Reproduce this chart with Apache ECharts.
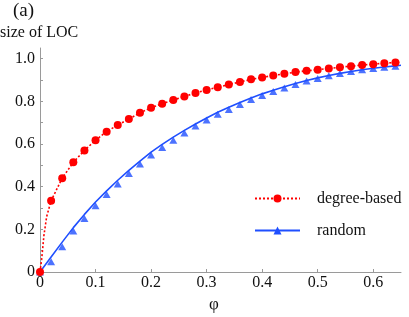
<!DOCTYPE html>
<html>
<head>
<meta charset="utf-8">
<script src="https://cdn.jsdelivr.net/npm/echarts@6/dist/echarts.min.js"></script>
<style>html,body{margin:0;padding:0;background:#fff}#c{width:409px;height:317px}</style>
</head>
<body>
<div id="c"></div>
<script>
// phi values of the markers
const phi = [0,0.02,0.04,0.06,0.08,0.10,0.12,0.14,0.16,0.18,0.20,0.22,0.24,0.26,0.28,0.30,0.32,0.34,0.36,0.38,0.40,0.42,0.44,0.46,0.48,0.50,0.52,0.54,0.56,0.58,0.60,0.62,0.64];
// degree-based markers (red circles)
const degreeBased = [0,0.334,0.440,0.514,0.570,0.618,0.658,0.689,0.717,0.746,0.770,0.789,0.806,0.823,0.839,0.853,0.866,0.879,0.891,0.903,0.912,0.921,0.929,0.937,0.943,0.948,0.954,0.960,0.965,0.970,0.974,0.979,0.982];
// extra points of the dotted red curve (near zero and at the end)
const degreeCurveX = [0.003,0.007,0.012,0.65];
const degreeCurveY = [0.060,0.170,0.260,0.984];
// random markers (blue triangles)
const randomSim = [0,0.048,0.118,0.192,0.251,0.311,0.363,0.413,0.462,0.506,0.548,0.584,0.618,0.652,0.684,0.712,0.740,0.762,0.785,0.809,0.827,0.846,0.863,0.879,0.895,0.907,0.920,0.931,0.940,0.948,0.954,0.960,0.965];
// solid blue curve
const randomCurveX = [0,0.02,0.04,0.06,0.08,0.10,0.12,0.14,0.16,0.18,0.20,0.22,0.24,0.26,0.28,0.30,0.32,0.34,0.36,0.38,0.40,0.42,0.44,0.46,0.48,0.50,0.52,0.54,0.56,0.58,0.60,0.62,0.64,0.65];
const randomCurveY = [0,0.070,0.140,0.208,0.270,0.328,0.380,0.430,0.476,0.520,0.562,0.598,0.632,0.664,0.694,0.722,0.749,0.772,0.795,0.816,0.835,0.852,0.868,0.884,0.898,0.910,0.921,0.931,0.940,0.948,0.955,0.961,0.966,0.969];
// tick labels
const xLabels = [0,0.1,0.2,0.3,0.4,0.5,0.6];
const yLabels = [0,0.2,0.4,0.6,0.8,1.0];
const yTicks = [0,0.1,0.2,0.3,0.4,0.5,0.6,0.7,0.8,0.9,1.0];

const RED = '#ff0000';
const BLUE = '#1f4fff';
const AXIS = '#9a9a9a';
const FONT = 'Liberation Serif, Times New Roman, serif';

const redData = [];
phi.forEach((x, i) => redData.push({ value: [x, degreeBased[i]] }));
degreeCurveX.forEach((x, i) => redData.push({ value: [x, degreeCurveY[i]], symbol: 'none' }));
redData.sort((a, b) => a.value[0] - b.value[0]);

const blueLine = randomCurveX.map((x, i) => ({ value: [x, randomCurveY[i]], symbol: 'none' }));
const blueTri = phi.map((x, i) => [x, randomSim[i]]);

const fmt = v => (v === 0 ? '0' : v.toFixed(1));

const chart = echarts.init(document.getElementById('c'), null, { renderer: 'canvas' });
chart.setOption({
  animation: false,
  backgroundColor: '#fff',
  textStyle: { fontFamily: FONT },
  grid: { left: 40, right: 8, top: 48, bottom: 45, containLabel: false },
  xAxis: {
    type: 'value', min: 0, max: 0.65, interval: 0.1,
    axisLine: { show: true, lineStyle: { color: AXIS, width: 1 } },
    axisTick: { show: true, inside: true, length: 3, lineStyle: { color: AXIS }, customValues: xLabels.slice(1) },
    axisLabel: { customValues: xLabels, formatter: fmt, color: '#111', fontFamily: FONT, fontSize: 16, margin: 3 },
    splitLine: { show: false }
  },
  yAxis: {
    type: 'value', min: 0, max: 1.05, interval: 0.1,
    axisLine: { show: true, lineStyle: { color: AXIS, width: 1 } },
    axisTick: { show: true, inside: true, length: 3, lineStyle: { color: AXIS }, customValues: yTicks.slice(1) },
    axisLabel: { customValues: yLabels, formatter: fmt, color: '#111', fontFamily: FONT, fontSize: 16, margin: 5 },
    splitLine: { show: false }
  },
  legend: {
    orient: 'vertical', left: 249, top: 185,
    itemWidth: 45, itemHeight: 10, itemGap: 15,
    data: ['degree-based', 'random'],
    textStyle: { fontFamily: FONT, fontSize: 16, color: '#111', lineHeight: 17, padding: [0, 0, 0, 12] }
  },
  series: [
    {
      name: 'degree-based', type: 'line', data: redData,
      symbol: 'circle', symbolSize: 8, showSymbol: true,
      lineStyle: { color: RED, width: 1.6, type: [2, 2] },
      itemStyle: { color: RED },
      clip: false, z: 3
    },
    {
      name: 'random', type: 'line', data: blueLine,
      symbol: 'triangle', symbolSize: [7, 6], showSymbol: true,
      lineStyle: { color: BLUE, width: 1.6 },
      itemStyle: { color: BLUE },
      z: 2
    },
    {
      name: 'random-sim', type: 'scatter', data: blueTri,
      symbol: 'triangle', symbolSize: [8, 7],
      itemStyle: { color: BLUE }, z: 2
    }
  ],
  graphic: [
    { type: 'text', left: 13, top: 2, style: { text: '(a)', fontFamily: FONT, fontSize: 19, fill: '#111' } },
    { type: 'text', left: 0, top: 25, style: { text: 'size of LOC', fontFamily: FONT, fontSize: 16, fill: '#111' } },
    { type: 'text', x: 214, y: 305, style: { text: 'φ', fontFamily: FONT, fontSize: 17, fill: '#111', align: 'center', verticalAlign: 'middle' } }
  ]
});
</script>
</body>
</html>
